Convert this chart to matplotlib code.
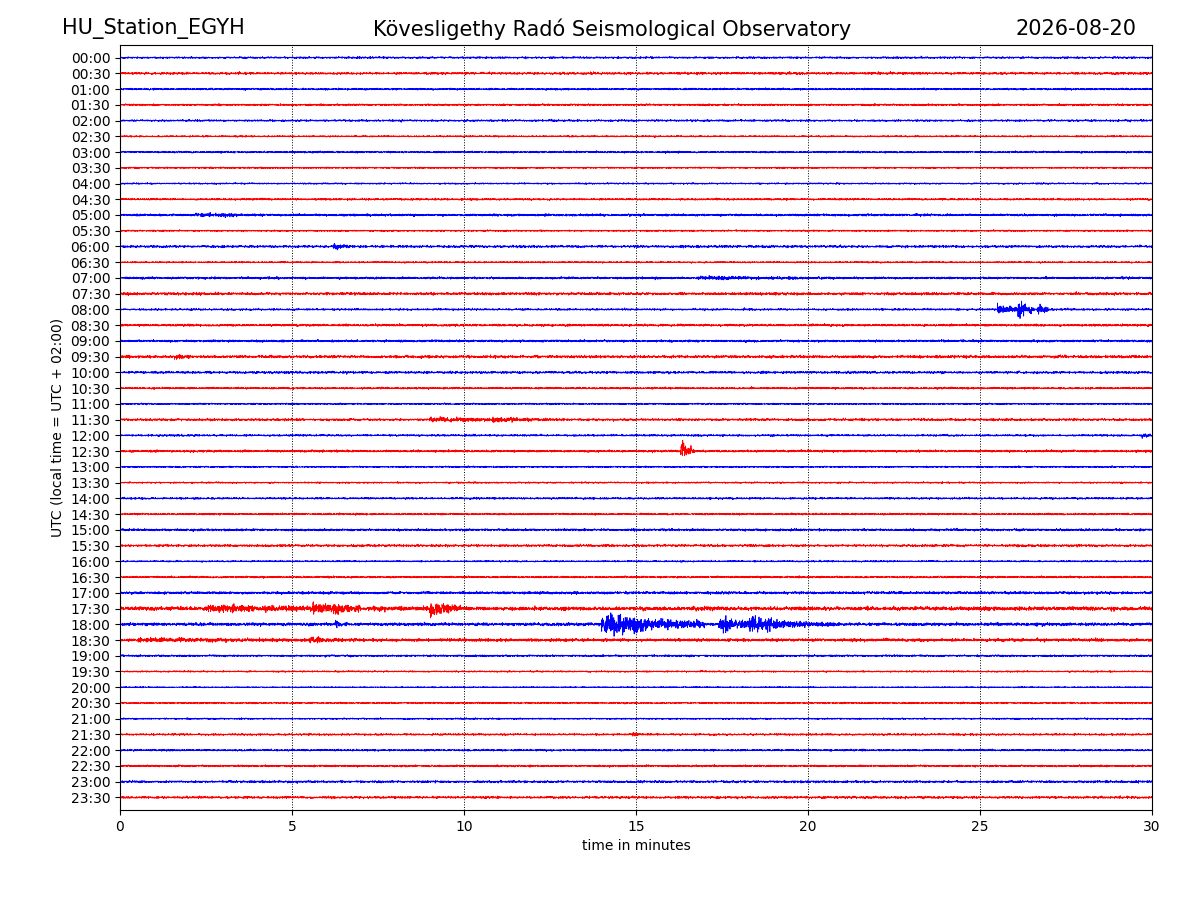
import matplotlib
matplotlib.use("Agg")
import matplotlib.pyplot as plt
import numpy as np

station = "HU_Station_EGYH"
title = "Kövesligethy Radó Seismological Observatory"
date = "2026-08-20"

row_labels = ["%02d:%02d" % (h, m) for h in range(24) for m in (0, 30)]
colors = ["blue", "red"]

# background noise level per row (in row units), read by eye
noise = [0.05, 0.06, 0.05, 0.05, 0.05, 0.04, 0.05, 0.04, 0.04, 0.05, 0.06, 0.04,
         0.06, 0.04, 0.06, 0.07, 0.05, 0.06, 0.06, 0.07, 0.06, 0.05, 0.04, 0.06,
         0.05, 0.06, 0.04, 0.04, 0.05, 0.05, 0.06, 0.06, 0.04, 0.05, 0.07, 0.10,
         0.08, 0.08, 0.05, 0.04, 0.03, 0.04, 0.04, 0.05, 0.05, 0.05, 0.06, 0.06]

# events: row, start minute, duration (min), peak amplitude (row units)
ev_row = [16, 16, 16, 25, 35, 35, 35, 35, 36, 36, 36, 36, 37, 37, 23, 23, 24, 10, 12, 14, 43, 19]
ev_t0 = [25.5, 26.1, 26.7, 16.3, 2.5, 5.6, 6.2, 9.0, 14.0, 17.4, 18.3, 6.25, 0.5, 5.5, 9.0, 10.8, 29.7, 2.2, 6.2, 16.8, 14.9, 1.5]
ev_dur = [1.5, 0.4, 0.3, 0.4, 7.5, 1.0, 0.8, 0.9, 3.0, 3.5, 1.2, 0.2, 6.0, 1.5, 3.5, 1.5, 0.3, 2.0, 0.5, 4.0, 0.3, 1.0]
ev_amp = [0.3, 0.7, 0.4, 0.65, 0.2, 0.35, 0.45, 0.55, 0.7, 0.4, 0.5, 0.35, 0.12, 0.15, 0.15, 0.15, 0.2, 0.12, 0.2, 0.12, 0.15, 0.12]

n = 6000
t = np.linspace(0, 30, n)
rng = np.random.default_rng(7)

fig = plt.figure(figsize=(12, 9), dpi=100)
ax = fig.add_axes([0.1, 0.1, 0.86, 0.85])
for i, lab in enumerate(row_labels):
    y = rng.normal(0, noise[i] / 2.0, n)
    for r, t0, d, a in zip(ev_row, ev_t0, ev_dur, ev_amp):
        if r == i:
            m = (t >= t0) & (t <= t0 + d)
            env = np.exp(-1.5 * (t[m] - t0) / d)
            y[m] += rng.normal(0, a / 2.0, m.sum()) * env
    ax.plot(t, -i + y, color=colors[i % 2], lw=0.6)

ax.set_xlim(0, 30)
ax.set_ylim(-47.8, 0.8)
ax.set_yticks(-np.arange(48))
ax.set_yticklabels(row_labels)
ax.set_xticks(range(0, 31, 5))
ax.grid(axis="x", color="black", linestyle=":", lw=0.7)
ax.set_xlabel("time in minutes")
ax.set_ylabel("UTC (local time = UTC + 02:00)")
fig.text(0.052, 0.968, station, fontsize=15, va="center")
fig.text(0.51, 0.968, title, fontsize=15, va="center", ha="center")
fig.text(0.947, 0.968, date, fontsize=15, va="center", ha="right")
fig.savefig("out.png")
